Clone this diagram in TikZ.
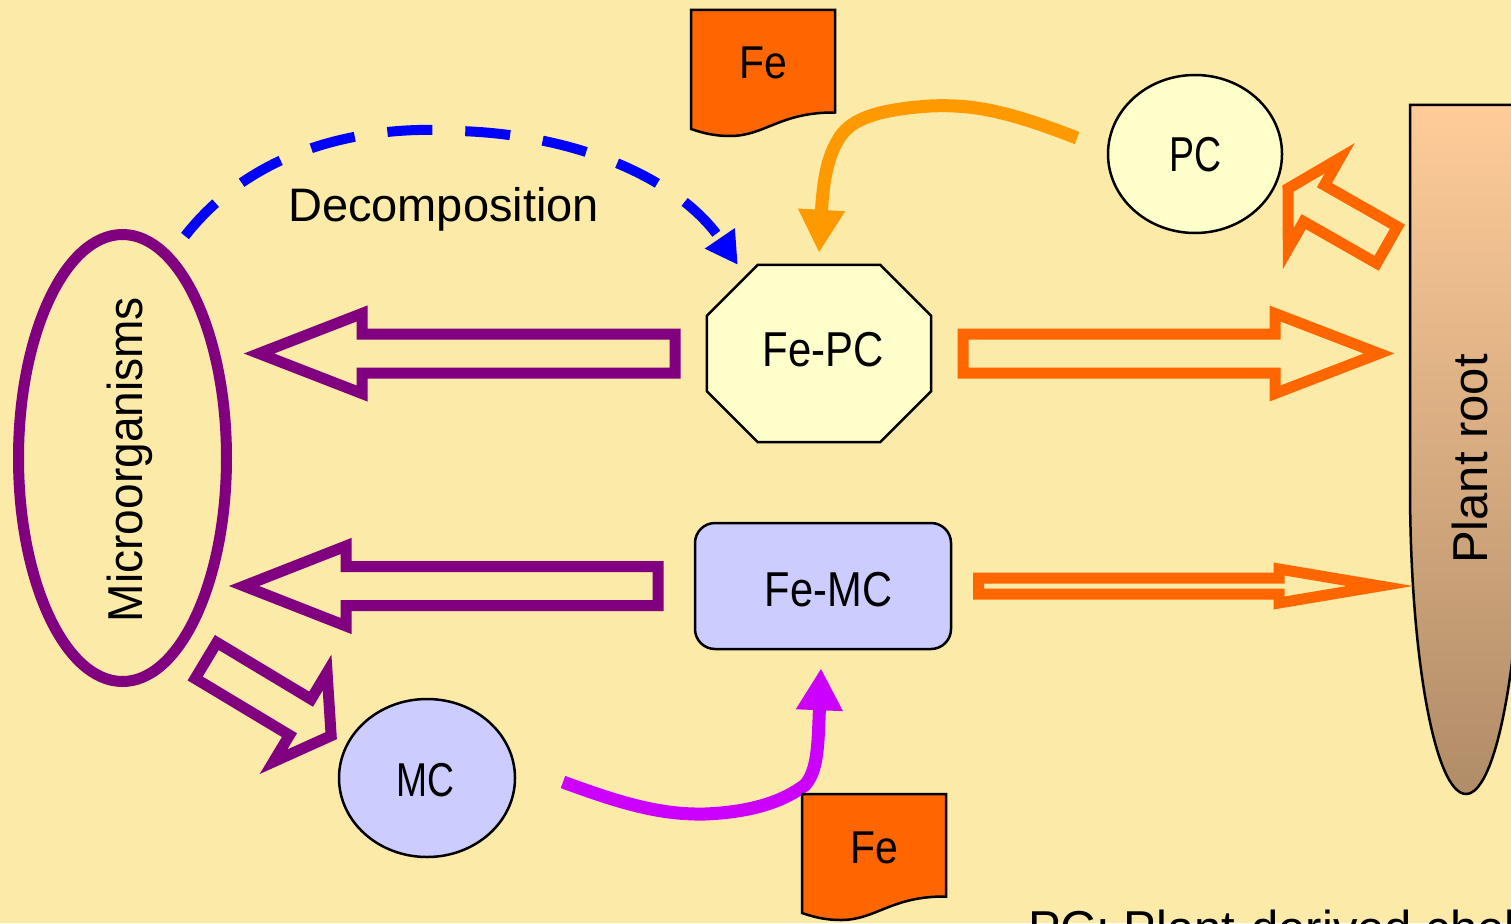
\documentclass[tikz,border=0pt]{standalone}
\usepackage{fontspec}
\setmainfont{Liberation Sans}
\usetikzlibrary{shapes.geometric,arrows.meta,calc}
\definecolor{bg}{RGB}{251,234,168}
\definecolor{purp}{HTML}{800080}
\definecolor{orng}{HTML}{FF6600}
\definecolor{gold}{HTML}{FF9900}
\definecolor{magn}{HTML}{CC00FF}
\definecolor{pale}{HTML}{FFFFCC}
\definecolor{lav}{HTML}{CCCCFF}
\definecolor{roottop}{HTML}{FFCC99}
\definecolor{rootbot}{HTML}{B08C68}
\tikzset{
  outl/.style={draw=black, line width=2.5pt},
  lbl/.style={anchor=base, inner sep=0pt, font=\fontsize{49}{58}\selectfont},
  hollow/.style={line width=11pt, line join=miter, miter limit=12},
  fedoc/.pic={
    \draw[outl, fill=orng] (0,0) -- (144,0) -- (144,102.5)
      .. controls (89,102) and (74,126) .. (39,126)
      .. controls (21,126) and (9,122) .. (0,119) -- cycle;
    \node[lbl, font=\fontsize{46}{55}\selectfont] (-t) at (72,69) {\scalebox{0.89}[1]{Fe}};
  }
}
\begin{document}
\begin{tikzpicture}[x=1pt,y=-1pt]
\useasboundingbox (0,0) rectangle (1511,923);
\clip (0,0) rectangle (1511,923);
\fill[bg] (0,0) rectangle (1511,923);

% plant root
\shade[top color=roottop, bottom color=rootbot, draw=black, line width=2.5pt]
  (1410,105) -- (1410,487)
  .. controls (1410,656.6) and (1435.1,794) .. (1466,794)
  .. controls (1496.9,794) and (1522,656.6) .. (1522,487)
  -- (1522,105) -- cycle;
\node[lbl, rotate=90] (rootlbl) at (1487,459) {Plant root};

% nodes
\node[ellipse, draw=purp, line width=11pt, minimum width=208pt, minimum height=447pt, inner sep=0pt] (micro) at (122.5,458) {};
\node[lbl, rotate=90] (microlbl) at (142,459.5) {\scalebox{0.94}[1]{Microorganisms}};

\node[minimum width=224pt, minimum height=177pt, inner sep=0pt] (fepc) at (819,353.5) {};
\draw[outl, fill=pale]
  ($(fepc.north west)+(51,0)$) -- ($(fepc.north east)+(-51,0)$) --
  ($(fepc.north east)+(0,51)$) -- ($(fepc.south east)+(0,-51)$) --
  ($(fepc.south east)+(-51,0)$) -- ($(fepc.south west)+(51,0)$) --
  ($(fepc.south west)+(0,-51)$) -- ($(fepc.north west)+(0,51)$) -- cycle;
\node[lbl] (fepclbl) at (823.5,366) {\scalebox{0.855}[1]{Fe-PC}};

\node[outl, fill=lav, rounded corners=20pt, minimum width=256pt, minimum height=126pt, inner sep=0pt] (femc) at (823,586) {};
\node[lbl] (femclbl) at (828.5,606) {\scalebox{0.85}[1]{Fe-MC}};

\node[ellipse, outl, fill=pale, minimum width=174pt, minimum height=158pt, inner sep=0pt] (pc) at (1195,154) {};
\node[lbl] (pclbl) at (1196,171) {\scalebox{0.765}[1]{PC}};

\node[ellipse, outl, fill=lav, minimum width=176pt, minimum height=158pt, inner sep=0pt] (mc) at (427,778) {};
\node[lbl, font=\fontsize{47.5}{57}\selectfont] (mclbl) at (425,796) {\scalebox{0.785}[1]{MC}};

\node[lbl, font=\fontsize{47}{56}\selectfont] (decomp) at (443.5,221) {Decomposition};

% hollow block arrows
\draw[hollow, draw=purp] (675,334) -- (362,334) -- (362,313.5) -- (259,353.5) -- (362,393.5) -- (362,373) -- (675,373) -- cycle;
\draw[hollow, draw=purp] (658,566.5) -- (346,566.5) -- (346,546) -- (244,586) -- (346,626) -- (346,605.5) -- (658,605.5) -- cycle;
\draw[hollow, draw=orng] (963,334) -- (1275,334) -- (1275,313.5) -- (1379,353.5) -- (1275,393.5) -- (1275,373) -- (963,373) -- cycle;
\draw[hollow, draw=orng] (978.5,578) -- (1279,578) -- (1279,569) -- (1380,586) -- (1279,603) -- (1279,594) -- (978.5,594) -- cycle;
\begin{scope}[shift={(1387,245)}, rotate=150.3]
  \draw[hollow, draw=orng] (0,-21) -- (84,-21) -- (84,-52) -- (114,0) -- (84,52) -- (84,21) -- (0,21) -- cycle;
\end{scope}
\begin{scope}[shift={(206,660.5)}, rotate=-31]
  \draw[hollow, draw=purp] (0,-21) -- (110,-21) -- (110,-52) -- (146,0) -- (110,52) -- (110,21) -- (0,21) -- cycle;
\end{scope}

% curved connectors
\coordinate (b0) at (185,236);
\coordinate (b1) at ($(fepc.north west)+(31,0)$);
\draw[blue, line width=10pt, dash pattern=on 45pt off 33pt, -{Triangle[length=32pt,width=34pt]}]
  (b0) .. controls (260,140) and (380,125) .. (460,131)
  .. controls (580,135) and (680,180) .. (b1);

\coordinate (o0) at (1077,138);
\coordinate (o1) at ($(fepc.north)+(0,-12)$);
\draw[gold, line width=13pt, -{Triangle[length=43pt,width=44pt]}]
  (o0) .. controls (1010,112) and (975,104) .. (930,106)
  .. controls (870,110) and (848,122) .. (838,140)
  .. controls (826,160) and (823,185) .. (o1);

\coordinate (m0) at (563,782);
\coordinate (m1) at ($(femc.south)+(-2,18)$);
\draw[magn, line width=13pt, -{Triangle[length=42pt,width=44pt]}]
  (m0) .. controls (620,803) and (660,815) .. (705,814)
  .. controls (755,812) and (785,800) .. (805,785)
  .. controls (818,770) and (818,745) .. (m1);

% Fe documents
\pic (fetop) at (691,10) {fedoc};
\pic (febot) at (802,794) {fedoc};

% legend (cut off at the edge)
\node[lbl, anchor=base west] (legend) at (1028,945) {PC: Plant-derived chel};
\end{tikzpicture}
\end{document}
